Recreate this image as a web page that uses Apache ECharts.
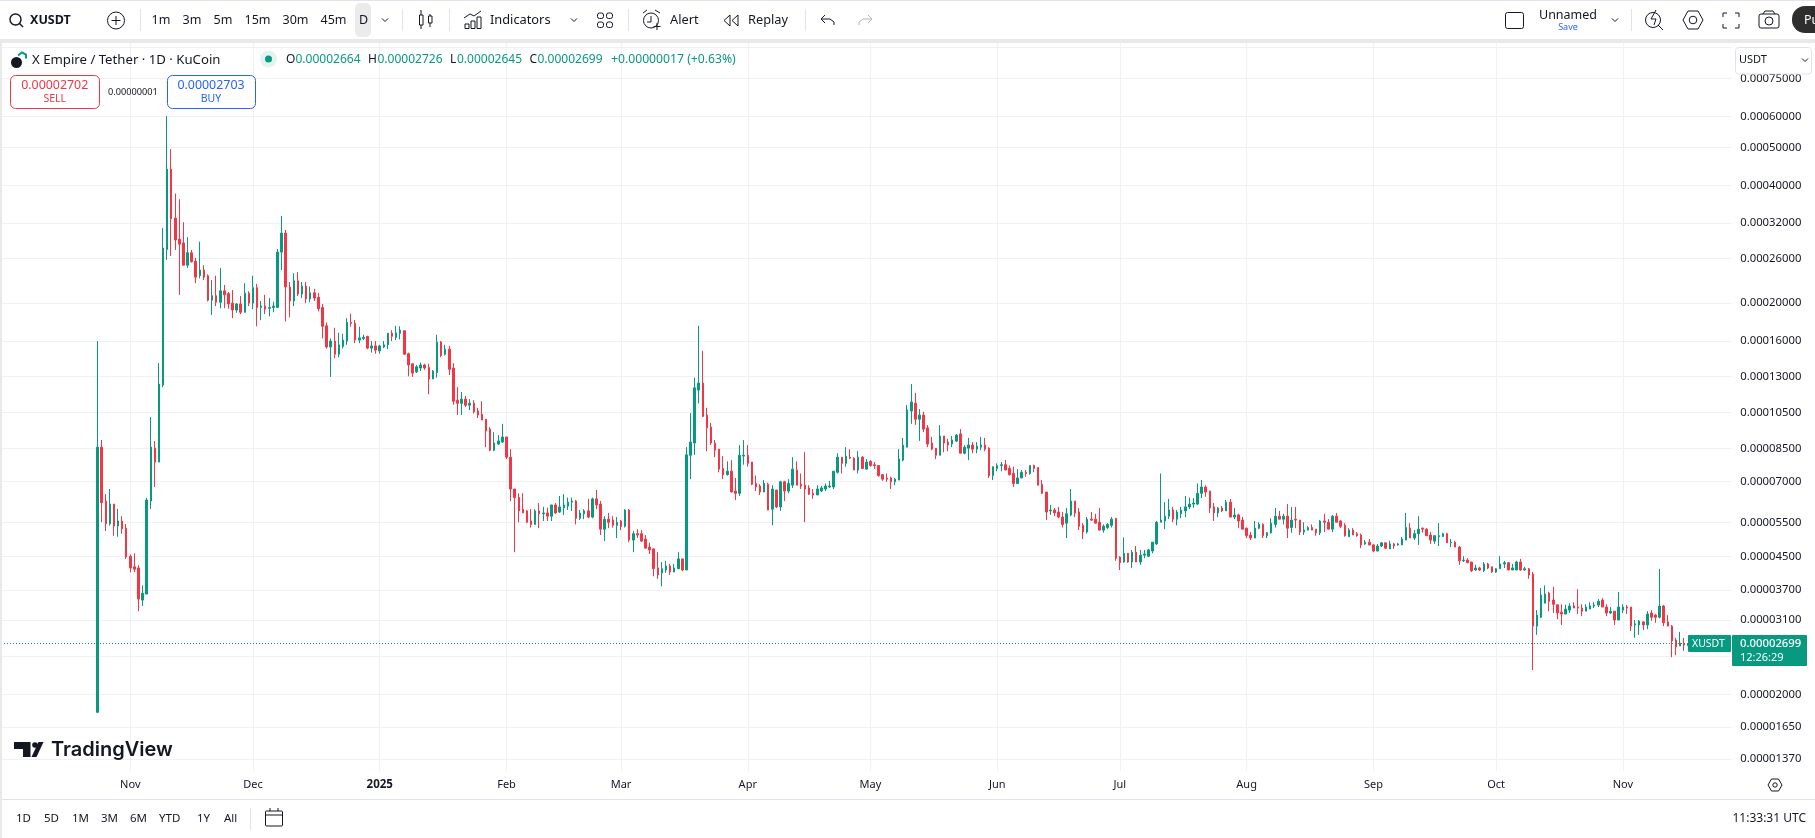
<!DOCTYPE html>
<html>
<head>
<meta charset="utf-8">
<title>XUSDT</title>
<script src="https://cdn.jsdelivr.net/npm/echarts@6/dist/echarts.min.js"></script>
<style>
  html, body { margin: 0; padding: 0; background: #fff; }
  #main { width: 1815px; height: 838px; }
</style>
</head>
<body>
<div id="main"></div>
<script>
// all prices are in units of 0.00000001 USDT, one row per ten days
var firstDay = '2024-10-24';
var opens = [
  1800,8570,6240,5460,6130,5390,5550,5320,4510,4240,
  4210,3485,3610,6240,8520,7850,12350,27400,44000,33000,
  29150,28500,25000,26900,25600,23500,24300,23500,20350,20900,
  20100,21500,21150,20000,19200,19900,18950,21200,20000,21900,
  19500,19650,19400,19500,19500,27000,30200,22000,20250,22800,
  21100,22100,20500,21250,20700,19500,17500,15450,16000,14800,
  15500,16000,17850,17750,16090,16250,16450,15350,15550,15100,
  15450,15650,16750,16350,16750,17000,14850,14000,13350,13650,
  13900,13700,12800,13300,15900,14800,15250,13650,11300,11090,
  11370,10970,11100,10600,10400,10100,9530,8420,8730,8830,
  9100,8080,6700,6370,5950,5890,5550,5440,5890,5790,
  5820,5710,6100,5850,6000,6060,6200,6240,5640,5790,
  5890,5680,6320,6130,5290,5610,5580,5410,5550,5380,
  5920,4960,5150,5150,4990,4760,4710,4210,4090,4160,
  4260,4110,4190,4440,4160,8170,8780,11990,12500,10350,
  9640,8780,8470,7560,7290,7440,6620,6530,8130,8170,
  7850,6920,6820,6580,6890,5950,6660,6030,6990,6620,
  6850,7490,6890,6850,6740,6530,6470,6620,6700,6780,
  6780,7390,8080,7790,8080,8030,7490,8080,7530,7880,
  7730,7690,7290,7150,7150,6990,7060,7940,8570,10600,
  11100,10100,10350,9600,8780,8520,8170,9150,8830,8730,
  8880,9260,8270,8520,8680,8470,8570,8680,8520,7250,
  7560,7690,7730,7560,7340,6920,7150,7390,7340,7690,
  7600,6890,6580,5890,5920,5850,5680,5480,5750,6240,
  5850,5410,5200,5610,5610,5510,5260,5340,5410,5640,
  4490,4360,4590,4360,4620,4360,4540,4510,4650,4850,
  5510,5550,5710,5920,5610,5790,5890,6030,6130,6130,
  6530,6780,6620,6030,5820,5990,5890,6200,5680,5750,
  5580,5320,5110,5020,5320,5440,5090,5180,5440,5710,
  5610,5710,5340,5610,5580,5200,5260,5340,5290,5180,
  5550,5510,5290,5710,5550,5410,5060,5260,5150,5110,
  4850,4900,4820,4650,4790,4880,4710,4850,4820,4820,
  4960,5320,5020,5150,5320,5290,5110,4930,5060,5060,
  5150,4880,4900,4760,4390,4410,4360,4160,4210,4140,
  4310,4240,4110,4190,4310,4340,4160,4160,4360,4160,
  4190,4060,2990,3150,3420,3630,3485,3390,3245,3210,
  3285,3365,3345,3325,3265,3305,3365,3385,3485,3345,
  3230,3265,3100,3285,3345,3345,3010,3010,3065,3010,
  3230,3190,3150,3365,3065,2990,2755,2660,2705,2664
];
var highs = [
  16000,8940,6500,6700,6130,5960,5710,5450,4560,4590,
  4280,3800,6360,10230,8880,14050,31100,60100,49500,38100,
  36850,32200,29500,27340,26100,28700,25000,23700,22900,23500,
  24600,22250,21350,21600,20000,20850,22500,21450,23500,22400,
  20250,21000,20600,20150,27500,33400,30750,22650,23850,24000,
  22650,22650,22050,21750,21250,19900,17850,16250,17300,16800,
  16700,18300,18800,18100,17400,16600,16500,16000,16000,15650,
  16000,16750,17060,17500,17450,17060,14950,14000,13900,14100,
  14000,14000,13500,16600,16000,15650,15550,14050,12200,11850,
  11590,11370,11300,10800,11230,10100,9640,9360,9200,9830,
  9100,8470,6700,6530,6530,5920,5950,5950,6170,6030,
  6000,6100,6170,6430,6500,6370,6370,6280,5920,5950,
  6320,6370,6660,6240,5710,5820,5710,5680,5580,5950,
  5950,5230,5290,5260,5110,4880,4730,4620,4360,4390,
  4310,4310,4620,4440,8570,10470,12900,17500,15100,10800,
  9880,8940,8470,8130,7880,7940,7150,8670,8940,8670,
  7850,7250,6890,7060,6950,6850,6660,7030,7030,7100,
  8080,7880,7340,8320,6850,6700,6850,6820,6920,7030,
  7440,8270,8080,8570,8470,8080,8370,8130,7990,7940,
  7850,7690,7290,7340,7200,7150,8470,9050,10970,12420,
  11790,10720,10550,9760,9100,8520,9760,9150,9000,9150,
  9260,9530,8670,9050,8830,8830,9100,9050,8570,7640,
  7790,7850,7940,7690,7640,7530,7490,7490,7690,7730,
  7600,7060,6580,6100,5990,6030,5850,5990,6700,6240,
  5990,5480,5680,5850,5790,5990,5440,5480,5680,5640,
  4510,5040,4590,4680,4790,4680,4680,4710,4900,5550,
  7340,6200,6320,6030,5920,6030,6430,6370,6350,6920,
  7060,6850,6620,6170,6030,6060,6280,6320,5990,5790,
  5680,5340,5200,5550,5510,5480,5200,5640,5990,5890,
  5790,6130,6030,6030,5580,5510,5380,5440,5290,5580,
  5790,5610,5750,5820,5580,5480,5320,5320,5200,5150,
  4960,4990,4850,4850,4900,4880,4940,4880,4880,5050,
  5820,5480,5260,5710,5340,5320,5200,5110,5480,5180,
  5180,4990,4940,4790,4510,4460,4360,4290,4240,4360,
  4340,4240,4210,4510,4390,4360,4310,4390,4440,4240,
  4210,4110,3285,3740,3800,3660,3770,3390,3400,3390,
  3420,3440,3715,3400,3400,3440,3440,3505,3525,3400,
  3345,3265,3655,3400,3385,3345,3100,3100,3080,3265,
  3285,3210,4185,3385,3190,3010,2790,2890,2790,2726
];
var lows = [
  1800,5510,5230,5400,5090,5060,5150,4440,4100,4110,
  3265,3365,3610,5960,6780,7850,12200,25780,26400,27340,
  21000,25000,24600,25400,22500,23150,22900,20200,18650,19650,
  19400,19400,19350,18300,18900,18750,18950,19650,19300,17450,
  18100,18750,18500,18950,19500,24300,17950,18400,19650,20850,
  20600,20000,20100,20250,19050,16250,15300,12950,14450,14550,
  15300,15650,17400,15800,15800,16090,15250,14950,14850,14850,
  15350,15270,16000,16090,16150,14800,13000,12950,13250,13400,
  13500,11700,12800,12900,14550,14700,13100,11000,10350,10350,
  10850,10660,10450,10170,10050,8570,8370,8370,8680,8780,
  7990,6240,4620,5510,5820,5480,5340,5440,5320,5550,
  5550,5550,5790,5820,5750,5920,5890,5440,5580,5610,
  5640,5640,5950,5110,4930,5320,5340,5020,5260,5340,
  4900,4620,5020,4900,4730,4570,4010,3950,3780,4090,
  4040,4110,4190,4130,4160,7100,8190,11090,10230,8370,
  8680,8080,7390,7100,7250,6580,6280,6430,7730,7640,
  6850,6620,6470,6580,5920,5410,5990,5890,6240,6530,
  6740,6850,6700,5510,6470,6320,6470,6580,6620,6740,
  6700,7340,7340,7640,7990,7490,7340,7530,7530,7640,
  7530,7200,7030,6990,6700,6850,7060,7880,8570,9830,
  9770,8890,9360,8570,8420,7990,8170,8320,8370,8570,
  8830,8270,8220,7940,8270,8270,8420,8370,7150,7060,
  7440,7440,7490,7250,6780,6920,7150,7200,7290,7390,
  6850,6500,5580,5750,5710,5640,5340,5020,5710,5680,
  5260,4990,5150,5550,5480,5260,5180,5290,5340,4390,
  4160,4340,4340,4210,4360,4290,4460,4490,4590,4820,
  5510,5290,5610,5510,5410,5640,5680,5950,6000,6100,
  6350,6400,5820,5550,5680,5850,5890,5680,5610,5320,
  5290,5020,4960,5020,5290,5020,5020,5150,5340,5610,
  5440,5020,5180,5320,5110,5110,5260,5260,5090,5110,
  5200,5290,5200,5510,5320,5060,5060,5110,5060,4730,
  4820,4820,4620,4650,4760,4710,4710,4710,4800,4820,
  4960,5020,4960,4820,5180,5090,4850,4850,4790,5060,
  4880,4760,4760,4290,4360,4340,4110,4140,4140,4110,
  4180,4090,4090,4190,4210,4160,4160,4160,4140,4140,
  3950,2310,2840,3135,3420,3265,3230,3115,3010,3210,
  3230,3325,3210,3170,3265,3305,3325,3345,3345,3170,
  3210,3010,3100,3230,3210,2905,2790,2840,2920,2935,
  3085,3050,3130,2990,2990,2490,2520,2660,2585,2645
];
var closes = [
  8570,6180,5460,6130,5390,5550,5300,4490,4210,4180,
  3505,3630,6280,8570,7850,12420,27660,44000,32900,29000,
  28300,25000,26900,25500,23300,24300,23300,20350,20900,20100,
  21500,21000,19900,19200,19900,18950,21200,20000,21900,19500,
  19650,19300,19500,19650,27000,30200,22000,20250,22800,21100,
  22100,20500,21250,20600,19350,17450,15450,16000,14800,15650,
  16090,17850,17750,16090,16300,16350,15350,15550,15170,15550,
  15650,16750,16450,16800,17060,14800,13900,13250,13750,13900,
  13650,12800,13400,15900,14700,15250,13550,11230,11090,11370,
  10970,11100,10550,10350,10050,9420,8420,8780,8890,9100,
  8080,6700,6370,5890,5820,5510,5440,5890,5790,5820,
  5710,6100,5820,6030,6100,6200,6240,5640,5820,5890,
  5680,6320,6100,5290,5610,5510,5410,5510,5380,5920,
  4960,5150,5110,4930,4730,4680,4190,4040,4190,4260,
  4110,4210,4440,4160,8190,8830,12150,12500,10270,9600,
  8780,8420,7530,7290,7440,6580,6530,8170,8170,7790,
  6890,6780,6580,6920,5920,6700,6030,6990,6620,6920,
  7530,6850,6820,6700,6500,6470,6700,6740,6820,6820,
  7440,8080,7790,8130,8030,7490,8080,7560,7850,7690,
  7690,7250,7100,7100,6990,7100,7990,8670,10660,11170,
  10100,10350,9530,8730,8470,8170,9150,8780,8680,8940,
  9200,8270,8570,8680,8470,8620,8680,8470,7250,7640,
  7690,7730,7490,7290,6920,7150,7390,7340,7690,7560,
  6850,6530,5850,5920,5820,5680,5440,5790,6240,5820,
  5380,5200,5610,5580,5480,5260,5380,5440,5610,4460,
  4340,4590,4360,4620,4360,4540,4570,4680,4900,5510,
  5580,5710,5920,5610,5850,5920,6030,6130,6170,6530,
  6780,6580,5990,5820,5990,5890,6200,5680,5750,5550,
  5290,5090,5020,5320,5440,5090,5180,5480,5710,5610,
  5710,5320,5580,5580,5200,5260,5340,5260,5180,5550,
  5510,5290,5710,5510,5380,5090,5260,5110,5090,4820,
  4900,4820,4650,4790,4880,4730,4850,4790,4850,4990,
  5340,5020,5150,5290,5290,5090,4960,5090,5090,5150,
  4880,4900,4760,4390,4410,4340,4140,4210,4160,4310,
  4210,4110,4190,4310,4340,4160,4210,4360,4160,4190,
  4040,2990,3190,3590,3610,3460,3400,3230,3210,3305,
  3365,3325,3325,3265,3345,3365,3385,3460,3345,3230,
  3265,3100,3345,3345,3325,2990,3030,3080,3010,3210,
  3150,3150,3365,3050,2990,2740,2645,2705,2675,2699
];
var gridTicks = [90000,75000,60000,50000,40000,32000,26000,20000,16000,13000,10500,8500,7000,5500,4500,3700,3100,2500,2000,1650,1370];
var labelTicks = [75000,60000,50000,40000,32000,26000,20000,16000,13000,10500,8500,7000,5500,4500,3700,3100,2500,2000,1650,1370];
var monthTicks = {
  '2024-11-01':'Nov','2024-12-01':'Dec','2025-01-01':'2025','2025-02-01':'Feb','2025-03-01':'Mar','2025-04-01':'Apr',
  '2025-05-01':'May','2025-06-01':'Jun','2025-07-01':'Jul','2025-08-01':'Aug','2025-09-01':'Sep','2025-10-01':'Oct','2025-11-01':'Nov'
};
var timeframes = [['1m',151.5],['3m',182.5],['5m',213.5],['15m',244.5],['30m',282.5],['45m',320.5],['D',359]];
var ranges = [['1D',16],['5D',44],['1M',72],['3M',101],['6M',130],['YTD',159],['1Y',197],['All',224]];

var UP = '#089981', DOWN = '#F23645', INK = '#131722', BLUE = '#2962FF', GRID = '#f0f1f3';
var FONT = '"Noto Sans", sans-serif';

// 23 empty days before the first candle and 10 after the last one
var dates = [];
var d0 = Date.parse(firstDay + 'T00:00:00Z');
for (var i = -23; i < opens.length + 10; i++) {
  dates.push(new Date(d0 + i * 86400000).toISOString().slice(0, 10));
}
var candles = opens.map(function (o, i) {
  return [dates[i + 23], o, closes[i], lows[i], highs[i]];
});
function price(v) { return (v * 1e-8).toFixed(8); }
function isMonth(index, value) { return monthTicks[value] !== undefined; }

// toolbar and legend furniture
var g = [];
function txt(x, y, text, size, fill, opt) {
  opt = opt || {};
  g.push({ type: 'text', x: x, y: y, z: 30, silent: true, style: {
    text: text, fill: fill || INK, align: opt.align || 'left', verticalAlign: 'middle',
    font: (opt.weight || 'normal') + ' ' + size + 'px ' + (opt.family || FONT)
  }});
}
function rect(x, y, w, h, r, stroke, fill, z) {
  g.push({ type: 'rect', z: z === undefined ? 30 : z, silent: true, shape: { x: x, y: y, width: w, height: h, r: r },
    style: { stroke: stroke || null, fill: fill || null, lineWidth: 1 } });
}
function circ(cx, cy, r, stroke, fill, w) {
  g.push({ type: 'circle', z: 30, silent: true, shape: { cx: cx, cy: cy, r: r },
    style: { stroke: stroke || null, fill: fill || null, lineWidth: w || 1 } });
}
function line(pts, stroke, w) {
  g.push({ type: 'polyline', z: 30, silent: true, shape: { points: pts },
    style: { stroke: stroke || INK, fill: null, lineWidth: w || 1 } });
}
function poly(pts, stroke, fill) {
  g.push({ type: 'polygon', z: 30, silent: true, shape: { points: pts },
    style: { stroke: stroke || null, fill: fill || null, lineWidth: 1 } });
}
function chev(x, y) { line([[x - 3, y - 1.5], [x, y + 1.5], [x + 3, y - 1.5]], INK, 1); }
function sep(x, y0, y1) { line([[x + 0.5, y0], [x + 0.5, y1]], '#e0e3eb', 1); }

// page frame
rect(0, 0, 1815, 1, 0, null, '#e6e0ee', 25);
rect(0, 39, 1815, 4, 0, null, '#e9e9ea', 25);
rect(0, 43, 2, 795, 0, null, '#e9e9ea', 25);
rect(2, 799, 1813, 1, 0, null, '#e0e3eb', 25);

// top toolbar
circ(15.5, 19.5, 5.5, INK, null, 1.4); line([[19.5, 23.5], [23, 27]], INK, 1.4);
txt(30, 20.5, 'XUSDT', 12.5, INK, { weight: 'bold' });
circ(116, 20.5, 8.5, INK); line([[116, 16], [116, 25]]); line([[111.5, 20.5], [120.5, 20.5]]);
sep(140, 9, 31);
rect(355, 3, 16, 34, 5, null, '#ebebeb', 29);
timeframes.forEach(function (t) { txt(t[1], 20.5, t[0], 12.5); });
chev(385, 20); sep(402, 9, 31);
line([[421, 10], [421, 29]]); rect(419.5, 15, 3.5, 10, 0, INK, '#fff');
line([[430, 14], [430, 27]]); rect(428.5, 16, 3.5, 7, 0, INK, '#fff');
sep(449, 9, 31);
rect(465, 24, 4, 4.5, 0, INK); rect(471, 21, 4, 7.5, 0, INK); rect(477, 17, 4, 11.5, 0, INK);
line([[464, 18], [470, 14], [474, 16], [481, 11]]);
txt(490, 20.5, 'Indicators', 12.8);
chev(574, 20);
rect(597.5, 13, 6, 5.5, 2, INK); rect(606.5, 13, 6, 5.5, 2, INK); rect(597.5, 22, 6, 5.5, 2, INK); rect(606.5, 22, 6, 5.5, 2, INK);
sep(628, 9, 31);
circ(651, 20.5, 7.5, INK); line([[651, 16], [651, 22], [647, 22]]); line([[657, 23], [657, 30]]); line([[653.5, 26.5], [660.5, 26.5]]);
line([[643, 13], [647, 10]]); line([[655, 10], [660, 13]]);
txt(670, 20.5, 'Alert', 12.8);
poly([[730, 15], [724, 20.5], [730, 26]], INK); poly([[738, 15], [732, 20.5], [738, 26]], INK);
txt(748, 20.5, 'Replay', 12.8);
sep(805, 9, 31);
line([[825, 15], [821, 19], [825, 23]]); line([[821, 19], [830, 19], [834, 22], [834, 25]]);
line([[868, 15], [872, 19], [868, 23]], '#b2b5be'); line([[872, 19], [863, 19], [859, 22], [859, 25]], '#b2b5be');
rect(1505.5, 12.5, 18, 16, 2, INK);
txt(1568, 15, 'Unnamed', 12.5, INK, { align: 'center' });
txt(1568, 27.5, 'Save', 9, BLUE, { align: 'center' });
chev(1615, 20); sep(1631, 9, 31);
circ(1653, 20, 7.5, INK); line([[1658, 25], [1663, 30]]); line([[1656, 10], [1651, 19], [1656, 19], [1654, 25]]);
poly([[1683, 20], [1688, 11], [1698, 11], [1703, 20], [1698, 29], [1688, 29]], INK); circ(1693, 20, 3.8, INK);
line([[1723, 17], [1723, 13], [1727, 13]]); line([[1735, 13], [1739, 13], [1739, 17]]);
line([[1723, 24], [1723, 28], [1727, 28]]); line([[1735, 28], [1739, 28], [1739, 24]]);
rect(1759, 14, 20, 14, 2, INK); circ(1769, 21, 4, INK); line([[1763, 14], [1765, 11], [1773, 11], [1775, 14]]);
rect(1792, 6, 40, 27, 13, null, '#2e2e2e');
txt(1804, 20, 'Pu', 12.5, '#fff');

// legend
circ(16.5, 62.5, 5.5, null, '#131722');
line([[18, 55.5], [22, 52.5], [26, 54.5], [26, 58.5]], UP, 2);
txt(32, 60, 'X Empire / Tether \u00b7 1D \u00b7 KuCoin', 13.2);
circ(268.5, 59, 8.5, null, '#e3f3f0'); circ(268.5, 59, 3.5, null, UP);
var ohlcLast = [opens[389], highs[389], lows[389], closes[389]];
[['O', 286, 295.5], ['H', 368, 377.5], ['L', 450, 457], ['C', 529.5, 537.5]].forEach(function (t, i) {
  txt(t[1], 60, t[0], 12);
  txt(t[2], 60, price(ohlcLast[i]), 12, UP);
});
txt(611, 60, '+0.00000017 (+0.63%)', 12.2, UP);

// sell and buy boxes
rect(10.5, 75.5, 89, 33, 5, DOWN, '#fff');
txt(54.7, 85, '0.00002702', 12.4, DOWN, { align: 'center' });
txt(54.7, 99, 'SELL', 10.5, DOWN, { align: 'center' });
txt(108, 92, '0.00000001', 9.2, INK);
rect(167.5, 75.5, 88, 33, 5, BLUE, '#fff');
txt(211, 85, '0.00002703', 12.4, BLUE, { align: 'center' });
txt(211, 99, 'BUY', 10.5, BLUE, { align: 'center' });

// currency button
rect(1735.5, 47.5, 76, 26.5, 3, '#e0e3eb', '#fff');
txt(1739, 60, 'USDT', 11, INK);
chev(1805, 60);

// last price tags
rect(1688, 635, 43, 17, 1, null, UP);
txt(1692, 644, 'XUSDT', 10.5, '#fff');
rect(1732, 635, 75, 31, 1, null, UP);
txt(1740, 644, price(closes[389]), 11.3, '#fff', { weight: '500' });
txt(1740, 658, '12:26:29', 11, '#fff');

// TradingView mark
poly([[14, 742], [30.5, 742], [30.5, 757], [23, 757], [23, 749], [14, 749]], null, '#131722');
circ(35, 745, 2.8, null, '#131722');
poly([[43.5, 742], [36.5, 757], [31.5, 757], [38.5, 742]], null, '#131722');
txt(51, 749.5, 'TradingView', 20, '#131722', { weight: '600', family: 'Inter, sans-serif' });

// bottom bar
ranges.forEach(function (t) { txt(t[1], 819, t[0], 11.5); });
sep(250, 808, 830);
rect(265.5, 811, 17, 15, 1, INK); line([[265.5, 815], [282.5, 815]]); line([[270, 808], [270, 811]]); line([[278, 808], [278, 811]]);
poly([[1768, 785], [1771.5, 779], [1778.5, 779], [1782, 785], [1778.5, 791], [1771.5, 791]], INK); circ(1775, 785, 2.2, INK);
txt(1806, 819, '11:33:31 UTC', 12, INK, { align: 'right' });

var chart = echarts.init(document.getElementById('main'), null, { renderer: 'canvas' });
chart.setOption({
  animation: false,
  backgroundColor: '#ffffff',
  grid: { left: 1.5, top: 43.1, width: 1729.7, height: 728, containLabel: false },
  xAxis: {
    type: 'category',
    data: dates,
    boundaryGap: true,
    axisLine: { show: false },
    axisTick: { show: false, alignWithLabel: true, interval: isMonth },
    axisLabel: {
      interval: isMonth,
      margin: 8,
      fontFamily: 'Noto Sans',
      fontSize: 11,
      color: '#131722',
      formatter: function (v) { return monthTicks[v] === '2025' ? '{year|2025}' : monthTicks[v]; },
      rich: { year: { fontFamily: 'Noto Sans', fontWeight: 'bold', fontSize: 11.5, color: '#131722' } }
    },
    splitLine: { show: true, alignWithLabel: true, interval: isMonth, lineStyle: { color: GRID, width: 1 } }
  },
  yAxis: {
    type: 'log',
    logBase: 10,
    position: 'right',
    min: 1274,
    max: 92360,
    axisLine: { show: false },
    axisTick: { show: false, customValues: gridTicks },
    axisLabel: {
      customValues: labelTicks,
      margin: 9,
      fontFamily: 'Noto Sans',
      fontSize: 11.3,
      color: '#131722',
      formatter: function (v) { return price(v); }
    },
    splitLine: { show: true, lineStyle: { color: GRID, width: 1 } }
  },
  series: [{
    type: 'candlestick',
    data: candles,
    encode: { x: 0, y: [1, 2, 3, 4] },
    barWidth: 2,
    itemStyle: { color: UP, color0: DOWN, borderColor: UP, borderColor0: DOWN, borderWidth: 1 },
    markLine: {
      silent: true,
      symbol: 'none',
      label: { show: false },
      lineStyle: { color: UP, type: [1, 2], dashOffset: 0.5, width: 1 },
      data: [{ yAxis: closes[389] }]
    }
  }],
  graphic: { elements: g }
});
</script>
</body>
</html>
